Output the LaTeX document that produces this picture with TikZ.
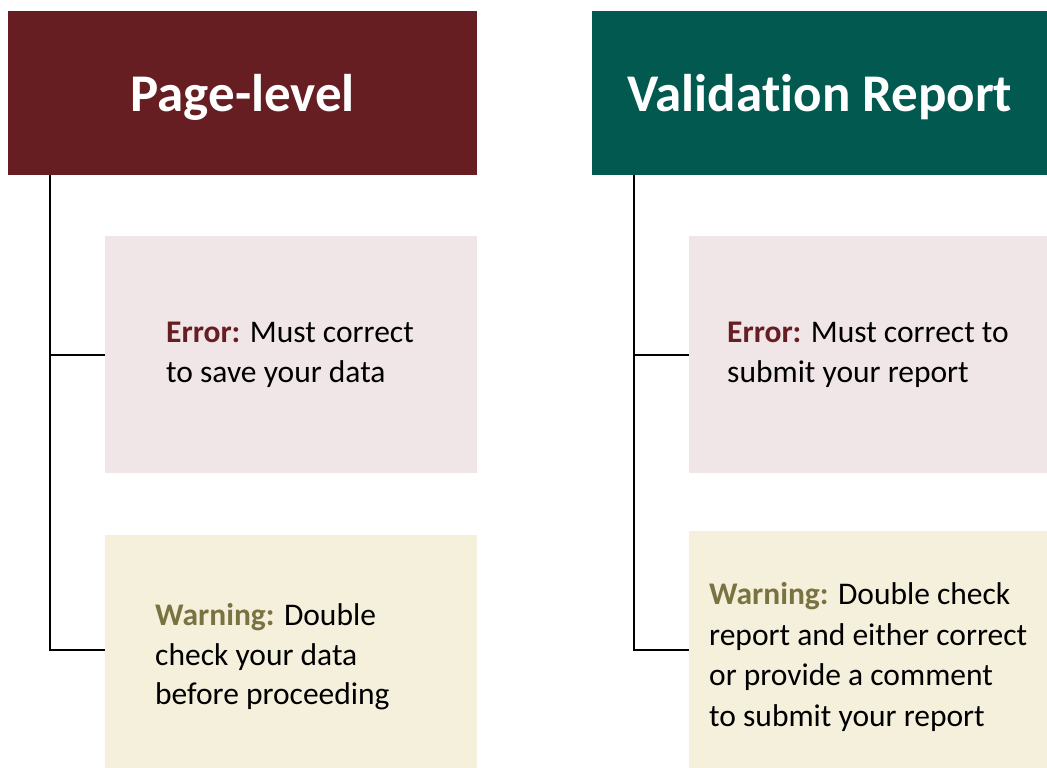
\documentclass[tikz,border=0pt]{standalone}
\usepackage{fontspec}
\setmainfont{Carlito}[Ligatures=NoCommon]
\usetikzlibrary{calc}
\definecolor{hd1}{RGB}{102,30,34}
\definecolor{hd2}{RGB}{2,89,79}
\definecolor{bg1}{RGB}{240,230,232}
\definecolor{bg2}{RGB}{245,240,220}
\definecolor{wc}{RGB}{122,115,65}

\begin{document}
\begin{tikzpicture}[
    x=1pt, y=-1pt,
    l/.style={
        line width=2pt,
        color=black
    },
    h/.style={
        anchor=north west, inner sep=0pt, minimum height=164pt, text depth=0pt,
        text=white, font={\fontsize{53}{60}\selectfont\bfseries}
    },
    e/.style={
        anchor=north west, inner sep=0pt, align=flush left,
        font={\fontsize{31.5}{39.5}\selectfont}
    }
]

    \useasboundingbox (0,0) rectangle (1047,768);

    \node [h, fill=hd1, minimum width=469pt] (P) at (8,11) {Page-level};
    \node [h, fill=hd2, minimum width=455pt] (V) at (592,11) {Validation Report};

    \node [e, fill=bg1, minimum width=372pt, minimum height=237pt, text width=250pt] (PE) at (105,236)
        {\textbf{\color{hd1}Error:} Must correct\\to save your data};
    \node [e, fill=bg2, minimum width=372pt, minimum height=243pt, text width=272pt] (PW) at (105,535)
        {\textbf{\color{wc}Warning:} Double\\check your data\\before proceeding};
    \node [e, fill=bg1, minimum width=358pt, minimum height=237pt, text width=282pt] (VE) at (689,236)
        {\textbf{\color{hd1}Error:} Must correct to\\submit your report};
    \node [e, fill=bg2, minimum width=358pt, minimum height=252pt, text width=318pt,
        font={\fontsize{31.5}{40.5}\selectfont}] (VW) at (689,531)
        {\textbf{\color{wc}Warning:} Double check\\report and either correct\\or provide a comment\\to submit your report};

    \coordinate (P0) at ($(P.south west)+(42,0)$);
    \coordinate (V0) at ($(V.south west)+(42,0)$);

    \draw [l] (P0) |- (PE.west);
    \draw [l] (P0) |- ($(PW.north west)+(0,115)$);
    \draw [l] (V0) |- (VE.west);
    \draw [l] (V0) |- ($(VW.north west)+(0,119)$);

\end{tikzpicture}
\end{document}
